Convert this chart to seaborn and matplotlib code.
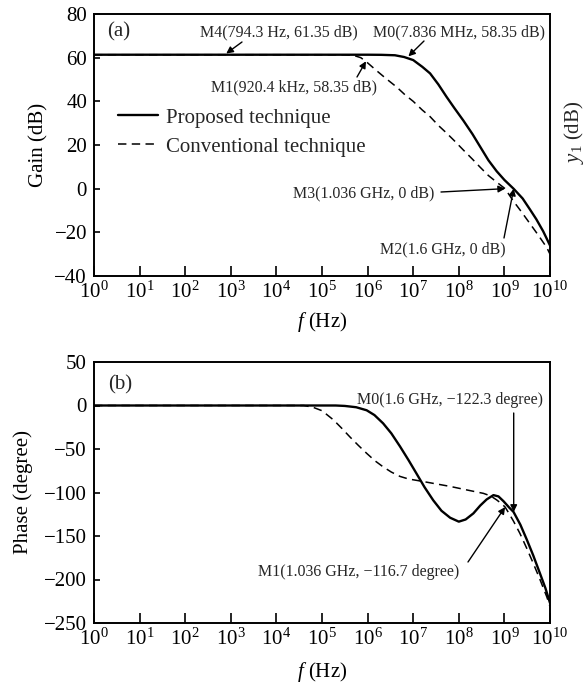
import numpy as np
import pandas as pd
import matplotlib
matplotlib.use("Agg")
import matplotlib.pyplot as plt
from matplotlib.ticker import NullLocator, FixedLocator
import seaborn as sns

# ---------------- data (log10 of frequency in Hz) ----------------
gain_prop_logf = [0, 1, 2, 3, 4, 5, 6, 6.3, 6.6, 6.8, 7.0, 7.2, 7.37, 7.55, 7.73, 7.9,
                  8.1, 8.3, 8.46, 8.65, 8.83, 9.0, 9.2, 9.4, 9.56, 9.7, 9.85, 10]
gain_prop_db = [61.35, 61.35, 61.35, 61.35, 61.35, 61.35, 61.35, 61.3, 61.1, 60.3, 58.9, 55.8,
                52.8, 47.8, 42.1, 37.0, 31.2, 25.0, 19.5, 13.0, 8.0, 4.0, 0.0, -4.5,
                -9.5, -14.0, -19.5, -26.0]

gain_conv_logf = [0, 1, 2, 3, 4, 5, 5.5, 5.7, 5.85, 5.96, 6.2, 6.4, 6.64, 6.82, 7.0, 7.2,
                  7.37, 7.55, 7.73, 7.9, 8.1, 8.3, 8.46, 8.65, 8.83, 9.015, 9.19, 9.37,
                  9.56, 9.75, 9.93, 10]
gain_conv_db = [61.35, 61.35, 61.35, 61.35, 61.35, 61.35, 61.3, 61.0, 60.0, 58.35, 54.0, 50.5,
                46.5, 43.0, 40.0, 36.0, 33.0, 29.0, 25.5, 22.0, 17.7, 13.5, 10.0, 6.0,
                3.0, 0.0, -5.5, -10.5, -16.0, -21.5, -27.0, -30.0]

phase_prop_logf = [0, 1, 2, 3, 4, 5, 5.3, 5.5, 5.75, 5.98, 6.15, 6.34, 6.52, 6.71, 6.9, 7.07,
                   7.25, 7.44, 7.62, 7.81, 8.0, 8.15, 8.32, 8.47, 8.61, 8.76, 8.87, 8.98,
                   9.1, 9.2, 9.35, 9.49, 9.63, 9.78, 9.9, 10]
phase_prop_deg = [0, 0, 0, 0, 0, 0, 0, -0.5, -2, -5.5, -11, -20.5, -32, -47, -63, -78,
                  -94, -109, -121, -129, -133.5, -131, -124, -115, -108, -103, -104.5, -110,
                  -117, -122.3, -137, -154, -172, -193, -210, -227]

phase_conv_logf = [0, 1, 2, 3, 4, 4.6, 4.8, 5.0, 5.25, 5.43, 5.61, 5.8, 5.98, 6.16, 6.34,
                   6.52, 6.71, 6.9, 7.07, 7.44, 7.81, 8.17, 8.54, 8.7, 8.83, 8.94, 9.015,
                   9.1, 9.2, 9.34, 9.48, 9.63, 9.78, 9.93, 10]
phase_conv_deg = [0, 0, 0, 0, 0, 0, -2, -6, -16.5, -26, -36, -46, -55, -63.5, -70.5,
                  -76.5, -81.5, -84.5, -86, -89.5, -93, -97, -101, -104, -108.5, -113, -116.7,
                  -124, -133, -147, -163, -181, -200, -220, -231]

series_labels = ["Proposed technique", "Conventional technique"]
x_tick_exponents = list(range(0, 11))
gain_ticks = [-40, -20, 0, 20, 40, 60, 80]
phase_ticks = [-250, -200, -150, -100, -50, 0, 50]

# ---------------- style ----------------
sns.set_theme(style="ticks")
plt.rcParams["font.family"] = ["Liberation Serif", "DejaVu Serif"]
plt.rcParams["mathtext.fontset"] = "custom"
plt.rcParams["mathtext.rm"] = "Liberation Serif"
plt.rcParams["mathtext.it"] = "Liberation Serif:italic"
plt.rcParams["axes.unicode_minus"] = True

W, H = 586, 687
fig = plt.figure(figsize=(W / 100, H / 100), dpi=100)
fig.patch.set_facecolor("white")


def fig_frac(px, py):
    return (px / W, 1 - py / H)


ax1 = fig.add_axes([94 / W, 1 - 276 / H, (550 - 94) / W, (276 - 14) / H])
ax2 = fig.add_axes([94 / W, 1 - 623 / H, (550 - 94) / W, (623 - 362) / H])

df_gp = pd.DataFrame({"f": np.power(10.0, gain_prop_logf), "v": gain_prop_db})
df_gc = pd.DataFrame({"f": np.power(10.0, gain_conv_logf), "v": gain_conv_db})
df_pp = pd.DataFrame({"f": np.power(10.0, phase_prop_logf), "v": phase_prop_deg})
df_pc = pd.DataFrame({"f": np.power(10.0, phase_conv_logf), "v": phase_conv_deg})

solid_kw = dict(color="black", linewidth=1.7)
dash_kw = dict(color="black", linewidth=1.1, linestyle=(0, (5.5, 3.5)))

sns.lineplot(data=df_gp, x="f", y="v", ax=ax1, label=series_labels[0], **solid_kw)
sns.lineplot(data=df_gc, x="f", y="v", ax=ax1, label=series_labels[1], **dash_kw)
sns.lineplot(data=df_pp, x="f", y="v", ax=ax2, **solid_kw)
sns.lineplot(data=df_pc, x="f", y="v", ax=ax2, **dash_kw)

for ax, yt, ylim in [(ax1, gain_ticks, (-40, 80)), (ax2, phase_ticks, (-250, 50))]:
    ax.set_xscale("log")
    ax.set_xlim(1, 1e10)
    ax.set_ylim(*ylim)
    ax.xaxis.set_major_locator(FixedLocator([10.0 ** e for e in x_tick_exponents]))
    ax.set_xticklabels([r"$10^{%d}$" % e for e in x_tick_exponents])
    ax.xaxis.set_minor_locator(NullLocator())
    ax.set_yticks(yt)
    ax.tick_params(axis="x", direction="in", length=7, width=1.2, pad=4,
                   labelsize=15, top=False, colors="black")
    ax.tick_params(axis="y", direction="in", length=4.5, width=1.2, pad=5,
                   labelsize=15, right=False, colors="black")
    for s in ax.spines.values():
        s.set_linewidth(1.4)
        s.set_color("black")
        s.set_visible(True)
    ax.set_xlabel(r"$f$ (Hz)", fontsize=15, color="black")
    ax.set_facecolor("white")

ax1.set_ylabel("Gain (dB)", fontsize=15, color="black")
ax2.set_ylabel("Phase (degree)", fontsize=15, color="black")
ax1.yaxis.set_label_coords(-0.099, 0.5)
ax2.yaxis.set_label_coords(-0.134, 0.5)
ax1.xaxis.set_label_coords(0.5, -0.13)
ax2.xaxis.set_label_coords(0.5, -0.142)

leg = ax1.legend(loc="upper left", bbox_to_anchor=((118 - 94) / 456, 1 - (108 - 14) / 262),
                 frameon=False, fontsize=15, handlelength=1.9, handletextpad=0.4,
                 borderpad=0, borderaxespad=0, labelspacing=0.45)

# panel labels
fig.text(*fig_frac(107, 32), "(a)", fontsize=15, ha="left", va="center")
fig.text(*fig_frac(108, 385), "(b)", fontsize=15, ha="left", va="center")
fig.text(*fig_frac(574, 132), r"$y_1$ (dB)", fontsize=15, ha="center", va="center", rotation=90)

# annotations
ann_fs = 11.5
arrow = dict(arrowstyle="-|>", color="black", lw=1.0, mutation_scale=10, shrinkA=0, shrinkB=0)


def mark(ax, text, text_px, head, tail_px):
    fig.text(*fig_frac(*text_px), text, fontsize=ann_fs, ha="center", va="center")
    ax.annotate("", xy=head, xycoords="data", xytext=fig_frac(*tail_px),
                textcoords="figure fraction", arrowprops=arrow)


mark(ax1, "M4(794.3 Hz, 61.35 dB)", (279, 32), (794.3, 61.9), (242, 42))
mark(ax1, "M0(7.836 MHz, 58.35 dB)", (459, 32), (7.836e6, 60.6), (424, 41))
mark(ax1, "M1(920.4 kHz, 58.35 dB)", (294, 87), (920.4e3, 58.35), (357, 77))
mark(ax1, "M3(1.036 GHz, 0 dB)", (364, 193), (1.036e9, 0), (441, 192))
mark(ax1, "M2(1.6 GHz, 0 dB)", (443, 249), (1.6e9, 0), (504, 238))
mark(ax2, "M0(1.6 GHz, \u2212122.3 degree)", (450, 400), (1.6e9, -122.3), (513.7, 413))
mark(ax2, "M1(1.036 GHz, \u2212116.7 degree)", (359, 572), (1.036e9, -116.7), (468, 562))

fig.savefig("out.png", dpi=100, facecolor="white")
